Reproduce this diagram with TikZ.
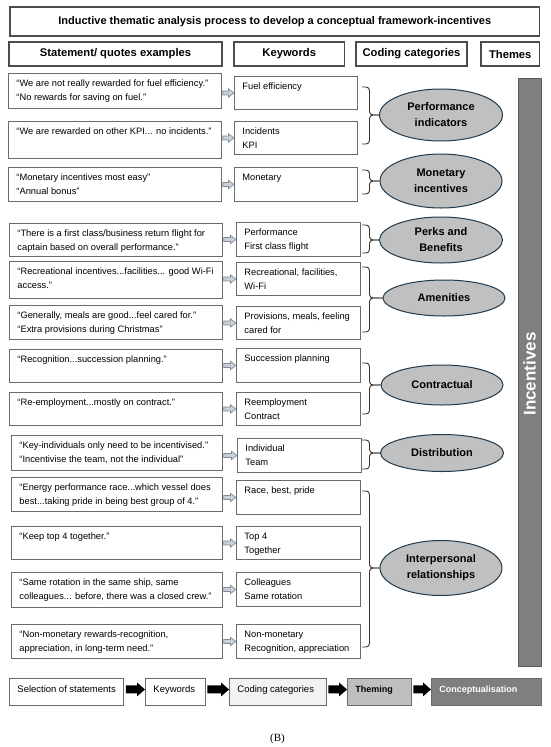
\documentclass[tikz,border=0pt]{standalone}
\usepackage{fontspec}
\setmainfont{Liberation Sans}
\newfontfamily\serifB{Liberation Serif}
\usetikzlibrary{shapes.geometric,calc}
\definecolor{boxline}{HTML}{6B6B6B}
\definecolor{hdrline}{HTML}{4D4D4D}
\definecolor{ellfill}{HTML}{C0C0C0}
\definecolor{ellline}{HTML}{203A4E}
\definecolor{barfill}{HTML}{7F7F7F}
\definecolor{barline}{HTML}{5A5A5A}
\definecolor{arrfill}{HTML}{C9D0D6}
\definecolor{arrline}{HTML}{7E8A95}
\definecolor{bracecol}{HTML}{333333}
\definecolor{codefill}{HTML}{F2F2F2}
\definecolor{themefill}{HTML}{BFBFBF}
\definecolor{concfill}{HTML}{7F7F7F}
\def\firstht{12.8}
\newcommand\tbox[7][]{%
  \pgfmathsetmacro\bw{#5-#3-16}%
  \pgfmathsetmacro\bh{#6-#4}%
  \node[tb,#1] (#2) at (#3,#4) {\parbox[c][\bh pt][t]{\bw pt}{\raggedright\rule{0pt}{\firstht pt}#7}};%
}
\newcommand\garr[2]{%
  \filldraw[garrow] let \p1=(#1.east), \p2=(#2.west) in
    (\x2,\y2) -- (\x2-5.5pt,\y2+4.2pt) -- (\x2-5.5pt,\y2+2pt) -- (\x1+0.8pt,\y2+2pt)
    -- (\x1+0.8pt,\y2-2pt) -- (\x2-5.5pt,\y2-2pt) -- (\x2-5.5pt,\y2-4.2pt) -- cycle;%
}
\newcommand\barr[2]{%
  \fill[black] let \p1=(#1.east), \p2=(#2.west) in
    (\x2,\y1+2.5pt) -- (\x2-8pt,\y1+9.5pt) -- (\x2-8pt,\y1+6.5pt) -- (\x1+1.5pt,\y1+6.5pt)
    -- (\x1+1.5pt,\y1-1.5pt) -- (\x2-8pt,\y1-1.5pt) -- (\x2-8pt,\y1-4.5pt) -- cycle;%
}
\newcommand\brc[5]{%
  \coordinate (#1t) at (362,#2);
  \coordinate (#1b) at (362,#3);
  \coordinate (#1m) at (369.5,#4);
  \draw[brace] (#1t) -- (369.5,#2) -- (#1m) -- (#5.west);
  \draw[brace] (#1b) -- (369.5,#3) -- (#1m) -- (#5.west);%
}
\begin{document}
\begin{tikzpicture}[x=1pt,y=-1pt,
  tb/.style={draw=boxline, line width=0.9pt, inner xsep=8pt, inner ysep=0pt, anchor=north west, font=\fontsize{9.3}{14}\selectfont},
  flow/.style={font=\fontsize{9.5}{14}\selectfont},
  hdr/.style={draw=hdrline, line width=1.1pt, inner sep=0pt, font=\fontsize{11.2}{13}\selectfont\bfseries},
  ell/.style={ellipse, draw=ellline, fill=ellfill, line width=1pt, inner sep=0pt, align=center, font=\fontsize{11}{16}\selectfont\bfseries},
  garrow/.style={draw=arrline, fill=arrfill, line width=0.6pt, line join=miter},
  brace/.style={draw=bracecol, line width=0.9pt, rounded corners=3.5pt},
]
\useasboundingbox (0,0) rectangle (550,747);

% header
\node[hdr, minimum width=529.5, minimum height=29, font=\fontsize{11}{13}\selectfont\bfseries] (title) at (274.75,21.5) {Inductive thematic analysis process to develop a conceptual framework-incentives};
\node[hdr, minimum width=213, minimum height=24] (h1) at (115.5,54) {Statement/ quotes examples};
\node[hdr, minimum width=110.5, minimum height=24] (h2) at (289.25,54) {Keywords};
\node[hdr, minimum width=111, minimum height=24] (h3) at (411.5,54) {Coding categories};
\node[hdr, minimum width=58.5, minimum height=24] (h4) at (510.25,54) {Themes};

% theme bar
\node[draw=barline, fill=barfill, line width=0.9pt, minimum width=23, minimum height=588, inner sep=0pt] (bar) at (529.5,372) {};
\node[rotate=90, text=white, font=\fontsize{17}{17}\selectfont\bfseries, inner sep=0pt] (inc) at (529.5,374) {Incentives};

% statements
\tbox{q1}{8}{73}{221}{108}{“We are not really rewarded for fuel efficiency.”\\“No rewards for saving on fuel.”}
\tbox{q2}{8}{121}{221}{158}{“We are rewarded on other KPI... no incidents.”}
\tbox{q3}{8}{167}{221}{201}{“Monetary incentives most easy”\\“Annual bonus”}
\tbox{q4}{9}{223}{222}{256}{“There is a first class/business return flight for\\captain based on overall performance.”}
\tbox{q5}{9}{261}{222}{298}{“Recreational incentives...facilities... good Wi-Fi\\access.”}
\tbox{q6}{9}{305}{222}{339}{“Generally, meals are good...feel cared for.”\\“Extra provisions during Christmas”}
\tbox{q7}{9}{349}{222}{382}{“Recognition...succession planning.”}
\tbox{q8}{9}{392}{222}{425}{“Re-employment...mostly on contract.”}
\tbox{q9}{11}{435}{222}{470}{“Key-individuals only need to be incentivised.”\\“Incentivise the team, not the individual”}
\tbox{q10}{11}{477}{222}{511}{“Energy performance race...which vessel does\\best...taking pride in being best group of 4.”}
\tbox{q11}{11}{526}{222}{559}{“Keep top 4 together.”}
\tbox{q12}{11}{572}{222}{607}{“Same rotation in the same ship, same\\colleagues... before, there was a closed crew.”}
\tbox{q13}{11}{624}{222}{658}{“Non-monetary rewards-recognition,\\appreciation, in long-term need.”}

% keywords
\tbox{k1}{234}{76}{357}{109}{Fuel efficiency}
\tbox{k2}{234}{121}{357}{154}{Incidents\\KPI}
\tbox{k3}{234}{167}{357}{201}{Monetary}
\tbox{k4}{236}{222}{360}{256}{Performance\\First class flight}
\tbox{k5}{236}{262}{360}{295}{Recreational, facilities,\\Wi-Fi}
\tbox{k6}{236}{306}{360}{339}{Provisions, meals, feeling\\cared for}
\tbox{k7}{236}{348}{360}{382}{Succession planning}
\tbox{k8}{236}{392}{360}{425}{Reemployment\\Contract}
\tbox{k9}{237}{438}{361}{472}{Individual\\Team}
\tbox{k10}{236}{480}{360}{514}{Race, best, pride}
\tbox{k11}{236}{526}{360}{559}{Top 4\\Together}
\tbox{k12}{236}{572}{360}{606}{Colleagues\\Same rotation}
\tbox{k13}{236}{624}{360}{658}{Non-monetary\\Recognition, appreciation}

\foreach \i in {1,...,13} {\garr{q\i}{k\i}}

% themes (ellipses)
\node[ell, minimum width=123, minimum height=52] (e1) at (441,115) {Performance\\indicators};
\node[ell, minimum width=122, minimum height=54] (e2) at (441,181) {Monetary\\incentives};
\node[ell, minimum width=123, minimum height=46] (e3) at (441,240) {Perks and\\Benefits};
\node[ell, minimum width=122, minimum height=36] (e4) at (444,298) {Amenities};
\node[ell, minimum width=122, minimum height=40] (e5) at (442,385) {Contractual};
\node[ell, minimum width=123, minimum height=37] (e6) at (442,453) {Distribution};
\node[ell, minimum width=122, minimum height=55] (e7) at (441,568) {Interpersonal\\relationships};

% braces
\brc{b1}{87}{144}{115}{e1}
\brc{b2}{170}{194}{181}{e2}
\brc{b3}{225}{253}{240}{e3}
\brc{b4}{267}{332}{298}{e4}
\brc{b5}{363}{414}{385}{e5}
\brc{b6}{440}{469}{453}{e6}
\brc{b7}{491}{647}{568}{e7}

% process flow
\def\firstht{13.8}
\tbox[flow]{f1}{9}{678}{123.4}{705}{Selection of statements}
\tbox[flow]{f2}{145}{678}{205}{705}{Keywords}
\tbox[flow, fill=codefill]{f3}{229}{678}{326}{705}{Coding categories}
\tbox[flow, fill=themefill, font=\fontsize{9}{14}\selectfont\bfseries]{f4}{347}{678}{411}{705}{Theming}
\tbox[flow, fill=concfill, text=white, font=\fontsize{9}{14}\selectfont\bfseries]{f5}{431}{678}{540.5}{705}{Conceptualisation}
\barr{f1}{f2}
\barr{f2}{f3}
\barr{f3}{f4}
\barr{f4}{f5}

\node[font=\serifB\fontsize{11}{11}\selectfont, inner sep=0pt] (lbl) at (277.5,739) {(B)};
\end{tikzpicture}
\end{document}
